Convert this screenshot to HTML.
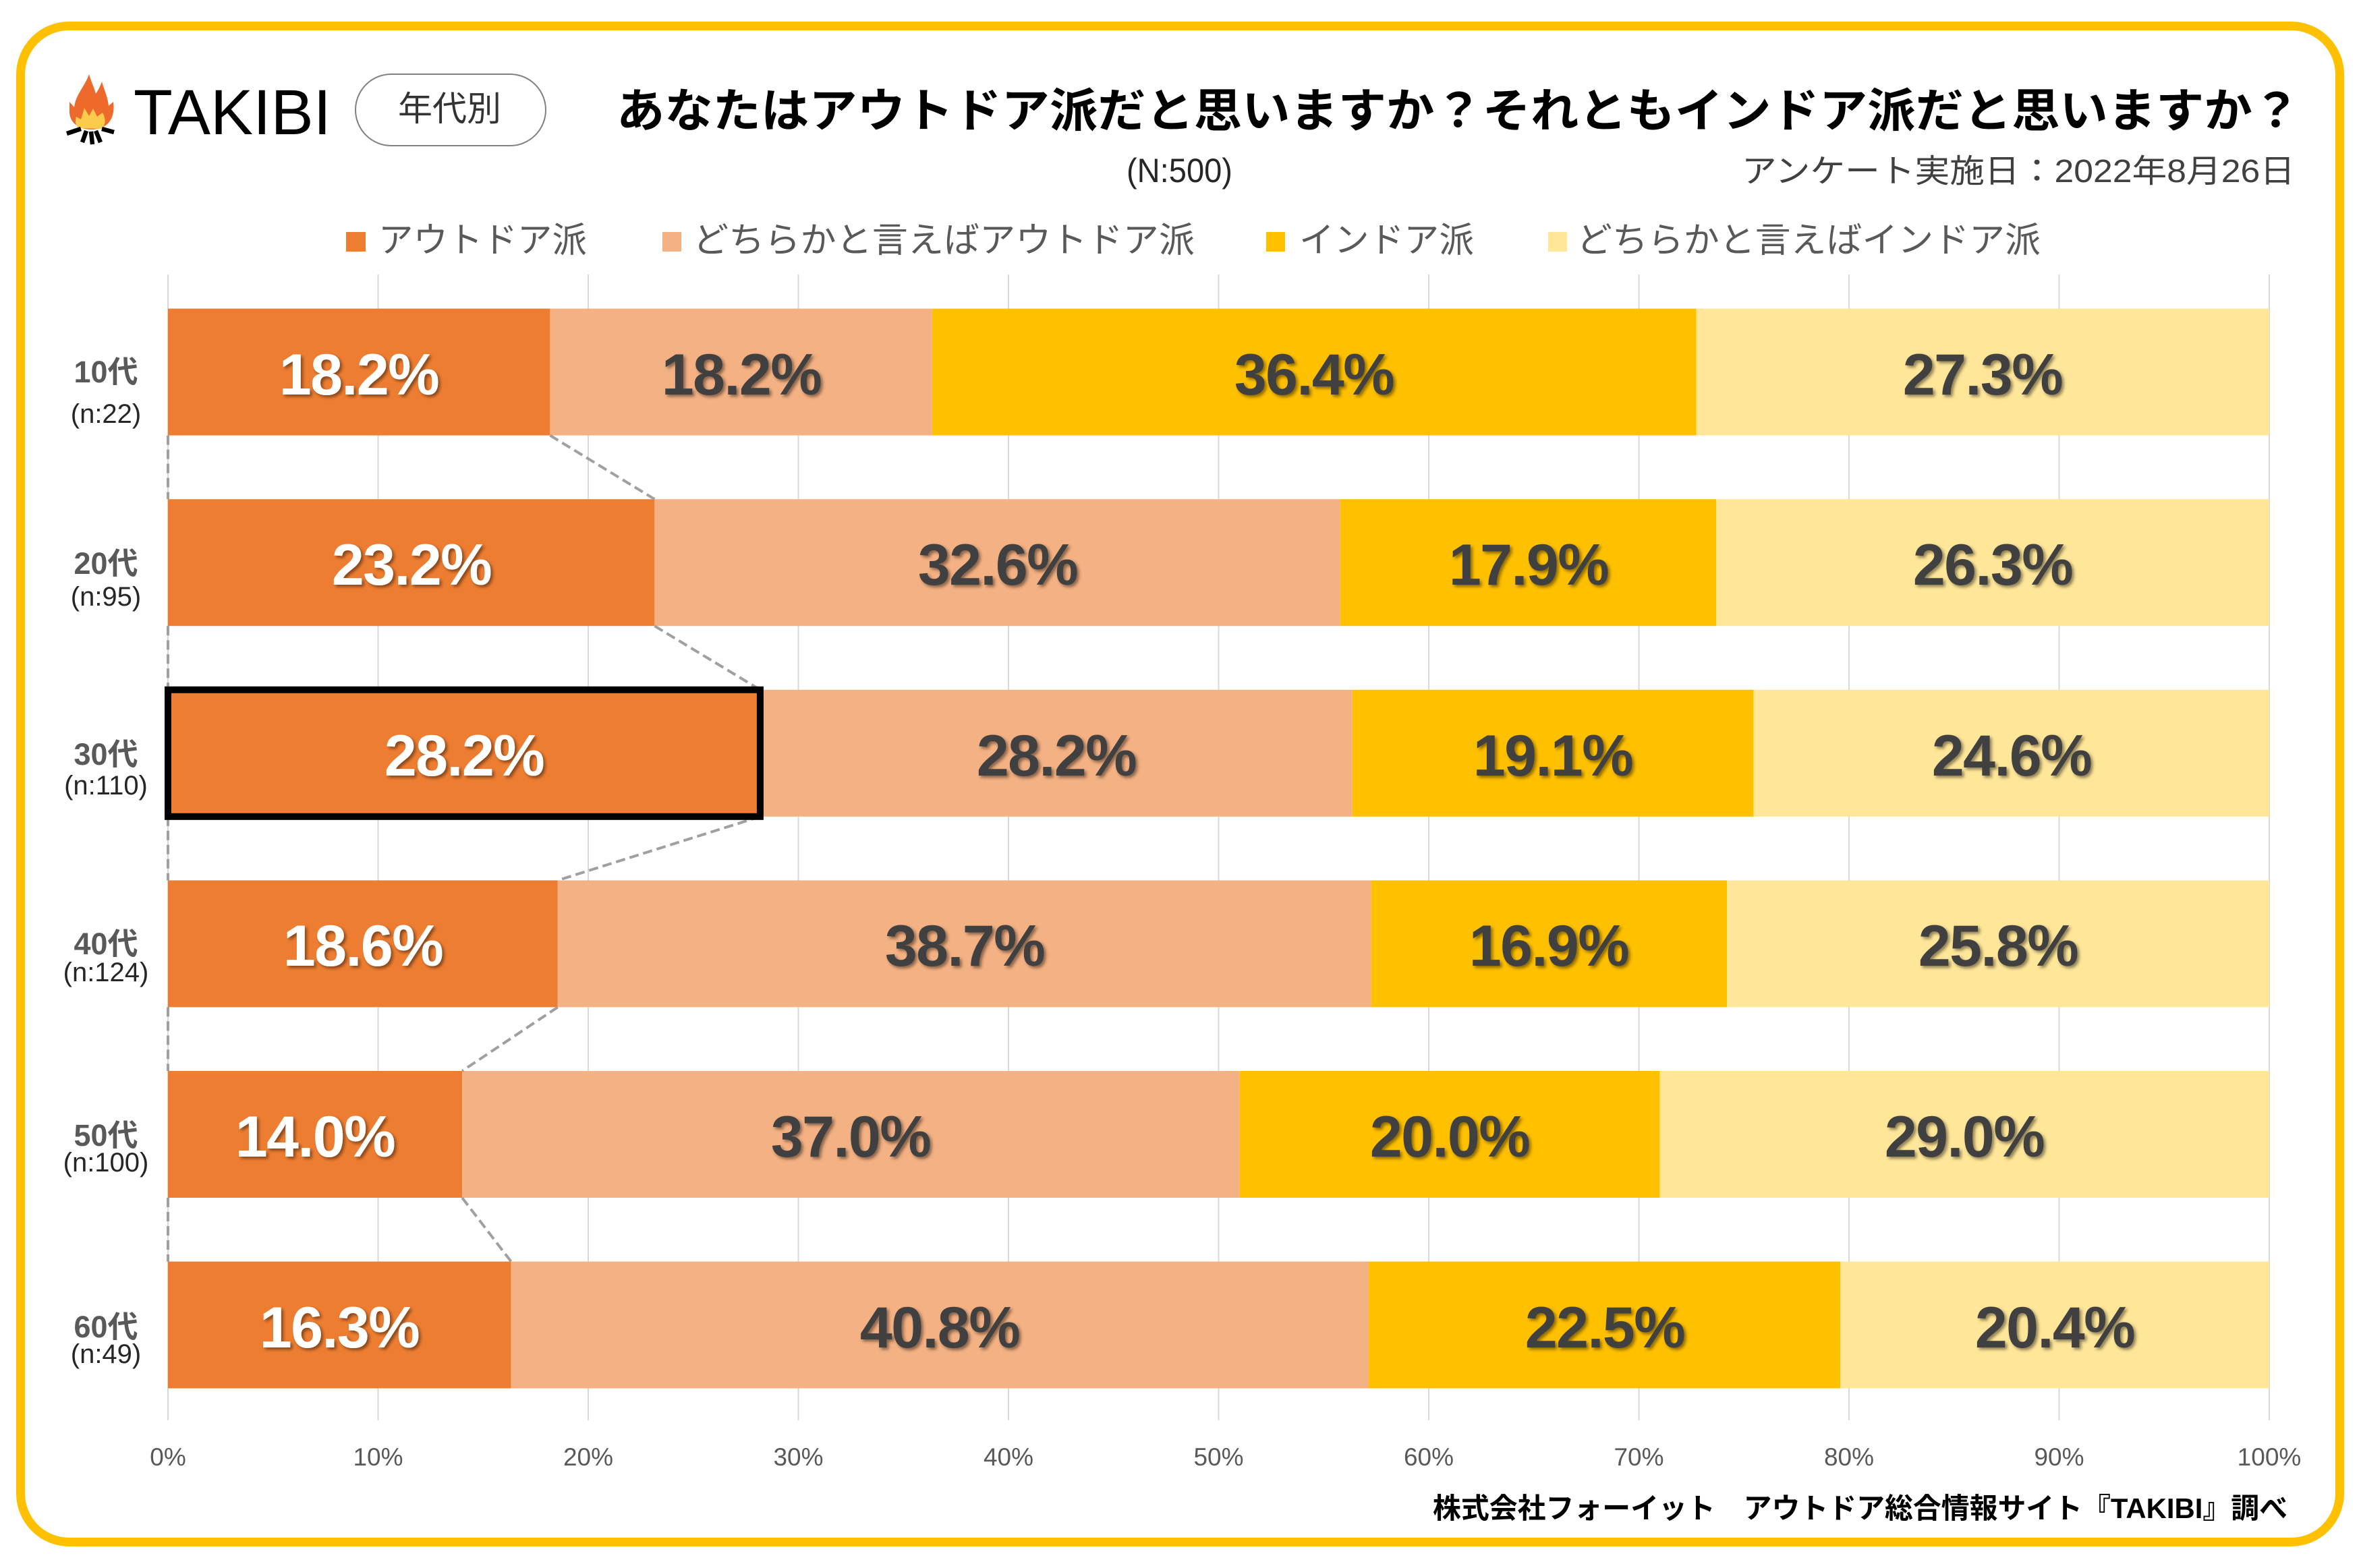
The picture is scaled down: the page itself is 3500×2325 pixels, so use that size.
<!DOCTYPE html>
<html><head><meta charset="utf-8"><style>
html,body{margin:0;padding:0;background:#fff;}
svg{display:block;}
</style></head><body>
<svg width="3500" height="2325" viewBox="0 0 3500 2325" xmlns="http://www.w3.org/2000/svg">
<defs>
<filter id="sh" x="-10%" y="-20%" width="125%" height="150%">
<feDropShadow dx="3" dy="3" stdDeviation="2.5" flood-color="#000" flood-opacity="0.45"/>
</filter>
</defs>
<rect x="0" y="0" width="3500" height="2325" fill="#fff"/>
<rect x="30.5" y="38.5" width="3438" height="2248" rx="72" ry="72" fill="#fff" stroke="#FFC000" stroke-width="13"/>

<!-- logo -->
<g transform="translate(80,95)">
<path d="M55,97 C38,97 24,88 23,72 L23,56 L30,64 C32,45 46,33 52,15 C56,28 60,36 62,44 C66,38 69,32 71,26 C75,40 80,50 81,62 L88,56 C91,78 82,97 55,97 Z" fill="#EE6A2C"/>
<path d="M36,95 C32,90 31,85 33,78 L40,82 L45,65 L52,77 L58,66 L64,78 L72,72 C78,82 76,92 70,96 Z" fill="#FBCB4C"/>
<g stroke="#000" stroke-width="6.5" stroke-linecap="butt">
<line x1="19" y1="103" x2="40" y2="96"/>
<line x1="42" y1="116" x2="48" y2="99"/>
<line x1="57" y1="119" x2="55" y2="100"/>
<line x1="69" y1="116" x2="62" y2="99"/>
<line x1="89" y1="101" x2="71" y2="96"/>
</g>
</g>
<text x="198" y="199" font-family="Liberation Sans, sans-serif" font-size="95" fill="#000" textLength="293" lengthAdjust="spacingAndGlyphs">TAKIBI</text>

<rect x="527" y="110" width="282" height="106" rx="53" ry="53" fill="#fff" stroke="#808080" stroke-width="2"/>
<text x="590" y="179" font-family="Liberation Sans, Noto Sans CJK JP, sans-serif" font-size="51" fill="#333" textLength="153" lengthAdjust="spacingAndGlyphs">年代別</text>

<!-- title -->
<text x="914" y="188" font-family="Liberation Sans, Noto Sans CJK JP, sans-serif" font-size="69" font-weight="bold" fill="#000" textLength="2496" lengthAdjust="spacingAndGlyphs">あなたはアウトドア派だと思いますか？それともインドア派だと思いますか？</text>
<text x="1670" y="270" font-family="Liberation Sans, Noto Sans CJK JP, sans-serif" font-size="50" fill="#262626" textLength="157" lengthAdjust="spacingAndGlyphs">(N:500)</text>
<text x="2582" y="270" font-family="Liberation Sans, Noto Sans CJK JP, sans-serif" font-size="48" fill="#404040" textLength="820" lengthAdjust="spacingAndGlyphs">アンケート実施日：2022年8月26日</text>

<!-- legend -->
<g font-family="Liberation Sans, Noto Sans CJK JP, sans-serif" font-size="52" fill="#595959">
<rect x="513" y="344" width="29" height="29" fill="#ED7D31"/>
<text x="561" y="374" textLength="309" lengthAdjust="spacingAndGlyphs">アウトドア派</text>
<rect x="982" y="344" width="28" height="29" fill="#F4B183"/>
<text x="1027" y="374" textLength="744" lengthAdjust="spacingAndGlyphs">どちらかと言えばアウトドア派</text>
<rect x="1877" y="344" width="28" height="29" fill="#FFC000"/>
<text x="1926" y="374" textLength="259" lengthAdjust="spacingAndGlyphs">インドア派</text>
<rect x="2295" y="344" width="28" height="29" fill="#FFE699"/>
<text x="2337" y="374" textLength="688" lengthAdjust="spacingAndGlyphs">どちらかと言えばインドア派</text>
</g>

<!-- gridlines -->
<g stroke="#D9D9D9" stroke-width="2">
<line x1="249" y1="407" x2="249" y2="2106"/>
<line x1="560.5" y1="407" x2="560.5" y2="2106"/>
<line x1="872" y1="407" x2="872" y2="2106"/>
<line x1="1183.5" y1="407" x2="1183.5" y2="2106"/>
<line x1="1495" y1="407" x2="1495" y2="2106"/>
<line x1="1806.5" y1="407" x2="1806.5" y2="2106"/>
<line x1="2118" y1="407" x2="2118" y2="2106"/>
<line x1="2429.5" y1="407" x2="2429.5" y2="2106"/>
<line x1="2741" y1="407" x2="2741" y2="2106"/>
<line x1="3052.5" y1="407" x2="3052.5" y2="2106"/>
<line x1="3364" y1="407" x2="3364" y2="2106"/>
</g>

<!-- bars -->
<g>
<rect x="249" y="457.6" width="566.4" height="188" fill="#ED7D31"/>
<rect x="815.4" y="457.6" width="566.4" height="188" fill="#F4B183"/>
<rect x="1381.8" y="457.6" width="1132.7" height="188" fill="#FFC000"/>
<rect x="2514.5" y="457.6" width="849.5" height="188" fill="#FFE699"/>
<rect x="249" y="740.2" width="721.4" height="188" fill="#ED7D31"/>
<rect x="970.4" y="740.2" width="1016.5" height="188" fill="#F4B183"/>
<rect x="1986.9" y="740.2" width="557.4" height="188" fill="#FFC000"/>
<rect x="2544.3" y="740.2" width="819.7" height="188" fill="#FFE699"/>
<rect x="249" y="1022.8" width="877.9" height="188" fill="#ED7D31"/>
<rect x="1126.9" y="1022.8" width="877.9" height="188" fill="#F4B183"/>
<rect x="2004.8" y="1022.8" width="594.7" height="188" fill="#FFC000"/>
<rect x="2599.5" y="1022.8" width="764.5" height="188" fill="#FFE699"/>
<rect x="249" y="1305.4" width="577.8" height="188" fill="#ED7D31"/>
<rect x="826.8" y="1305.4" width="1205.8" height="188" fill="#F4B183"/>
<rect x="2032.6" y="1305.4" width="527.5" height="188" fill="#FFC000"/>
<rect x="2560.1" y="1305.4" width="803.9" height="188" fill="#FFE699"/>
<rect x="249" y="1588" width="436.1" height="188" fill="#ED7D31"/>
<rect x="685.1" y="1588" width="1152.6" height="188" fill="#F4B183"/>
<rect x="1837.7" y="1588" width="623" height="188" fill="#FFC000"/>
<rect x="2460.7" y="1588" width="903.3" height="188" fill="#FFE699"/>
<rect x="249" y="1870.6" width="508.6" height="188" fill="#ED7D31"/>
<rect x="757.6" y="1870.6" width="1271.4" height="188" fill="#F4B183"/>
<rect x="2029" y="1870.6" width="699.3" height="188" fill="#FFC000"/>
<rect x="2728.3" y="1870.6" width="635.7" height="188" fill="#FFE699"/>
</g>

<!-- series lines -->
<g stroke="#A0A0A0" stroke-width="4" stroke-dasharray="14 7" fill="none">
<line x1="249" y1="645.6" x2="249" y2="740.2"/>
<line x1="815.4" y1="645.6" x2="970.4" y2="740.2"/>
<line x1="249" y1="928.2" x2="249" y2="1022.8"/>
<line x1="970.4" y1="928.2" x2="1126.9" y2="1022.8"/>
<line x1="249" y1="1210.8" x2="249" y2="1305.4"/>
<line x1="1126.9" y1="1210.8" x2="826.8" y2="1305.4"/>
<line x1="249" y1="1493.4" x2="249" y2="1588"/>
<line x1="826.8" y1="1493.4" x2="685.1" y2="1588"/>
<line x1="249" y1="1776" x2="249" y2="1870.6"/>
<line x1="685.1" y1="1776" x2="757.6" y2="1870.6"/>
</g>

<!-- highlight -->
<rect x="249" y="1022.8" width="877.9" height="188" fill="none" stroke="#000" stroke-width="10"/>

<!-- data labels -->
<g font-family="Liberation Sans, sans-serif" font-size="86" font-weight="bold" text-anchor="middle" letter-spacing="-1.5" filter="url(#sh)">
<g fill="#fff">
<text x="532" y="585">18.2%</text>
<text x="610" y="867">23.2%</text>
<text x="688" y="1150">28.2%</text>
<text x="538" y="1432">18.6%</text>
<text x="467" y="1715">14.0%</text>
<text x="503" y="1998">16.3%</text>
</g>
<g fill="#404040">
<text x="1099" y="585">18.2%</text>
<text x="1948" y="585">36.4%</text>
<text x="2939" y="585">27.3%</text>
<text x="1479" y="867">32.6%</text>
<text x="2266" y="867">17.9%</text>
<text x="2954" y="867">26.3%</text>
<text x="1566" y="1150">28.2%</text>
<text x="2302" y="1150">19.1%</text>
<text x="2982" y="1150">24.6%</text>
<text x="1430" y="1432">38.7%</text>
<text x="2296" y="1432">16.9%</text>
<text x="2962" y="1432">25.8%</text>
<text x="1261" y="1715">37.0%</text>
<text x="2149" y="1715">20.0%</text>
<text x="2912" y="1715">29.0%</text>
<text x="1393" y="1998">40.8%</text>
<text x="2379" y="1998">22.5%</text>
<text x="3046" y="1998">20.4%</text>
</g>
</g>

<!-- y labels -->
<g font-family="Liberation Sans, Noto Sans CJK JP, sans-serif" text-anchor="middle">
<g font-size="45" font-weight="bold" fill="#595959">
<text x="157" y="567">10代</text>
<text x="157" y="851">20代</text>
<text x="157" y="1134">30代</text>
<text x="157" y="1415">40代</text>
<text x="157" y="1699">50代</text>
<text x="157" y="1983">60代</text>
</g>
<g font-size="40" fill="#262626">
<text x="157" y="627">(n:22)</text>
<text x="157" y="898">(n:95)</text>
<text x="157" y="1178">(n:110)</text>
<text x="157" y="1455">(n:124)</text>
<text x="157" y="1737">(n:100)</text>
<text x="157" y="2021">(n:49)</text>
</g>
</g>

<!-- x ticks -->
<g font-family="Liberation Sans, sans-serif" font-size="37" fill="#595959" text-anchor="middle">
<text x="249" y="2173">0%</text>
<text x="560.5" y="2173">10%</text>
<text x="872" y="2173">20%</text>
<text x="1183.5" y="2173">30%</text>
<text x="1495" y="2173">40%</text>
<text x="1806.5" y="2173">50%</text>
<text x="2118" y="2173">60%</text>
<text x="2429.5" y="2173">70%</text>
<text x="2741" y="2173">80%</text>
<text x="3052.5" y="2173">90%</text>
<text x="3364" y="2173">100%</text>
</g>

<!-- footer -->
<text x="2124" y="2251" font-family="Liberation Sans, Noto Sans CJK JP, sans-serif" font-size="42" font-weight="bold" fill="#000" textLength="1267" lengthAdjust="spacingAndGlyphs">株式会社フォーイット　アウトドア総合情報サイト『TAKIBI』調べ</text>
</svg>
</body></html>
